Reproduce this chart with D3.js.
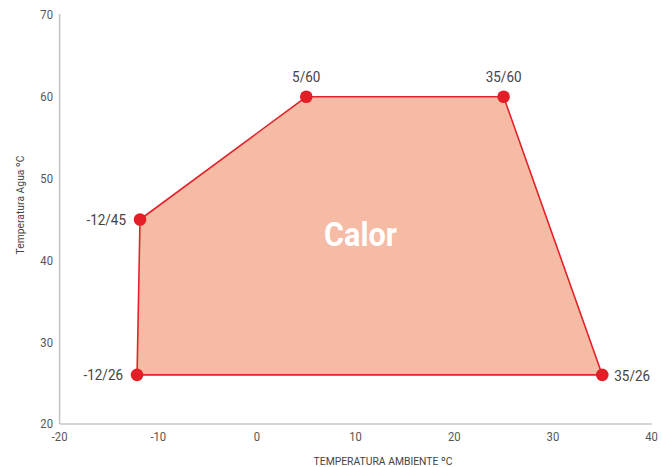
<!DOCTYPE html>
<html><head><meta charset="utf-8">
<script src="https://cdn.jsdelivr.net/npm/d3@7"></script>
<style>body{margin:0;background:#fff}svg{display:block}</style>
</head><body>
<svg id="c" width="661" height="467"></svg>
<script>
const xTicks = [-20, -10, 0, 10, 20, 30, 40];
const yTicks = [20, 30, 40, 50, 60, 70];
const pointX = [-11.85, 5, 25, 35, -12.15];
const pointY = [45, 60, 60, 26, 26];
const pointLabels = ["-12/45", "5/60", "35/60", "35/26", "-12/26"];
const areaLabel = "Calor";
const xTitle = "TEMPERATURA AMBIENTE ºC";
const yTitle = "Temperatura Agua ºC";

const FONT = "Roboto, 'Liberation Sans', sans-serif";
const SX = 0.9; // horizontal condensing to mimic the narrow typeface
const svg = d3.select("#c");
const x = d3.scaleLinear().domain([-20, 40]).range([59.6, 651.6]);
const y = d3.scaleLinear().domain([20, 70]).range([424, 15]);

function txt(g, px, py, s, anchor, size, fill, weight) {
  return g.append("text")
    .attr("transform", `translate(${px},${py}) scale(${SX},1)`)
    .attr("text-anchor", anchor).attr("dy", "0.35em")
    .attr("font-family", FONT).attr("font-size", size).attr("fill", fill)
    .attr("font-weight", weight || "normal").text(s);
}

// axes lines
svg.append("line").attr("x1", x(-20)).attr("x2", x(-20)).attr("y1", y(70)-1).attr("y2", y(20))
  .attr("stroke", "#c6c6c6").attr("stroke-width", 1.6);
svg.append("line").attr("x1", x(-20)).attr("x2", x(40)).attr("y1", y(20)).attr("y2", y(20))
  .attr("stroke", "#c6c6c6").attr("stroke-width", 1.6);

const gy = svg.append("g");
yTicks.forEach(d => txt(gy, 53, y(d), d, "end", 12.5, "#555"));
const gx = svg.append("g");
xTicks.forEach(d => txt(gx, x(d), 437, d, "middle", 12.5, "#555"));

svg.append("text").attr("transform", "translate(20,205) rotate(-90) scale(0.9,1)").attr("text-anchor", "middle")
  .attr("dy", "0.35em").attr("font-family", FONT).attr("font-size", 11.5).attr("fill", "#444").text(yTitle);
txt(svg, 383, 461, xTitle, "middle", 11.5, "#444");

const pts = pointX.map((d, i) => [x(d), y(pointY[i])]);
svg.append("path").attr("d", d3.line()(pts) + "Z")
  .attr("fill", "#f6bba5").attr("stroke", "#e3232a").attr("stroke-width", 1.6);

svg.append("g").selectAll("circle").data(pts).join("circle")
  .attr("cx", d => d[0]).attr("cy", d => d[1]).attr("r", 6.3).attr("fill", "#e31e26");

const lab = [
  {dx: -14, dy: 0, a: "end"},
  {dx: 0, dy: -20, a: "middle"},
  {dx: 0, dy: -20, a: "middle"},
  {dx: 12, dy: 1, a: "start"},
  {dx: -14, dy: 0, a: "end"}
];
const gl = svg.append("g");
pts.forEach((d, i) => txt(gl, d[0] + lab[i].dx, d[1] + lab[i].dy, pointLabels[i], lab[i].a, 15, "#444"));

txt(svg, x(10.5), y(43.2), areaLabel, "middle", 34, "#fff", "bold");
</script>
</body></html>
